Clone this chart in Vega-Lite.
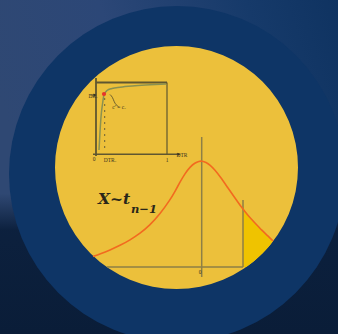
{
  "$schema": "https://vega.github.io/schema/vega-lite/v6.json",
  "width": 338,
  "height": 334,
  "padding": 0,
  "autosize": {"type": "none"},
  "config": {"view": {"stroke": null}},
  "encoding": {
    "x": {"field": "x", "type": "quantitative", "scale": {"domain": [0, 338], "nice": false, "zero": false}, "axis": null},
    "y": {"field": "y", "type": "quantitative", "scale": {"domain": [0, 334], "nice": false, "zero": false, "reverse": true}, "axis": null}
  },
  "layer": [
    {
      "data": {"values": [{"x": 0, "x2": 338, "y": 0, "y2": 334}]},
      "mark": {"type": "rect", "color": {"gradient": "linear", "x1": 0, "y1": 0.3, "x2": 1, "y2": 0, "stops": [
        {"offset": 0, "color": "#2f4873"},
        {"offset": 0.35, "color": "#2c4777"},
        {"offset": 0.75, "color": "#163a6a"},
        {"offset": 1, "color": "#0f3361"}]}},
      "encoding": {"x2": {"field": "x2"}, "y2": {"field": "y2"}}
    },
    {
      "data": {"values": [{"x": 0, "x2": 338, "y": 0, "y2": 334}]},
      "mark": {"type": "rect", "color": {"gradient": "linear", "x1": 0, "y1": 0, "x2": 0, "y2": 1, "stops": [
        {"offset": 0, "color": "rgba(11,31,60,0)"},
        {"offset": 0.58, "color": "rgba(11,31,60,0)"},
        {"offset": 0.69, "color": "rgba(11,31,60,0.97)"},
        {"offset": 1, "color": "rgba(10,29,56,1)"}]}},
      "encoding": {"x2": {"field": "x2"}, "y2": {"field": "y2"}}
    },
    {
      "data": {"values": [{"x": 177, "y": 174}]},
      "mark": {"type": "point", "shape": "circle", "filled": true, "opacity": 1, "size": 112896, "color": "#0e3566"}
    },
    {
      "data": {"values": [{"x": 176.5, "y": 167.5}]},
      "mark": {"type": "point", "shape": "circle", "filled": true, "opacity": 1, "size": 59049, "color": "#ecc03b"}
    },
    {
      "data": {"values": [
        {"x": 243, "y": 209, "y2": 267},
        {"x": 246, "y": 213, "y2": 267},
        {"x": 248, "y": 215.5, "y2": 265.7},
        {"x": 255, "y": 223, "y2": 260.2},
        {"x": 258, "y": 226, "y2": 257.6},
        {"x": 262, "y": 230.5, "y2": 253.8},
        {"x": 265, "y": 233, "y2": 250.7},
        {"x": 268, "y": 236, "y2": 247.4},
        {"x": 270, "y": 238, "y2": 245.1},
        {"x": 273, "y": 241, "y2": 241.3}
      ]},
      "mark": {"type": "area", "color": "#efc300", "opacity": 1},
      "encoding": {"y2": {"field": "y2"}}
    },
    {
      "data": {"values": [
        {"x": 201.7, "y": 137, "x2": 201.7, "y2": 277},
        {"x": 107, "y": 267, "x2": 243, "y2": 267},
        {"x": 243, "y": 200, "x2": 243, "y2": 267}
      ]},
      "mark": {"type": "rule", "color": "#8e7f46", "strokeWidth": 1.5},
      "encoding": {"x2": {"field": "x2"}, "y2": {"field": "y2"}}
    },
    {
      "data": {"values": [
        {"x": 93, "y": 256.5}, {"x": 100, "y": 254}, {"x": 110, "y": 250}, {"x": 120, "y": 245.5},
        {"x": 130, "y": 240}, {"x": 140, "y": 233.5}, {"x": 150, "y": 225}, {"x": 160, "y": 214},
        {"x": 170, "y": 200}, {"x": 175, "y": 191.5}, {"x": 180, "y": 182}, {"x": 185, "y": 173.5},
        {"x": 190, "y": 167}, {"x": 195, "y": 162.8}, {"x": 199, "y": 161.2}, {"x": 202, "y": 161},
        {"x": 206, "y": 162.3}, {"x": 210, "y": 165}, {"x": 215, "y": 170}, {"x": 220, "y": 176.5},
        {"x": 228, "y": 188}, {"x": 235, "y": 198}, {"x": 242, "y": 208}, {"x": 248, "y": 215.5},
        {"x": 255, "y": 223}, {"x": 262, "y": 230.5}, {"x": 268, "y": 236}, {"x": 273, "y": 241}
      ]},
      "mark": {"type": "line", "color": "#f26a1f", "strokeWidth": 1.6, "interpolate": "basis"},
      "encoding": {"order": {"field": "x", "type": "quantitative"}}
    },
    {
      "data": {"values": [
        {"x": 96, "y": 78, "x2": 96, "y2": 156, "w": 1.8},
        {"x": 96, "y": 82.5, "x2": 167, "y2": 82.5, "w": 2},
        {"x": 167, "y": 82.5, "x2": 167, "y2": 154, "w": 1.2},
        {"x": 93, "y": 154.3, "x2": 178, "y2": 154.3, "w": 1.6},
        {"x": 90, "y": 95, "x2": 96, "y2": 95, "w": 0.8}
      ]},
      "mark": {"type": "rule", "color": "#5f5630"},
      "encoding": {"x2": {"field": "x2"}, "y2": {"field": "y2"}, "strokeWidth": {"field": "w", "type": "quantitative", "scale": null}}
    },
    {
      "data": {"values": [{"x": 179, "y": 154.3}, {"x": 95, "y": 95}]},
      "mark": {"type": "point", "shape": "triangle-right", "filled": true, "opacity": 1, "size": 10, "color": "#3a3420"}
    },
    {
      "data": {"values": [{"x": 104.7, "y": 98, "x2": 104.7, "y2": 152}]},
      "mark": {"type": "rule", "color": "#6a6138", "strokeWidth": 1, "strokeDash": [2, 4]},
      "encoding": {"x2": {"field": "x2"}, "y2": {"field": "y2"}}
    },
    {
      "data": {"values": [
        {"x": 99, "y": 150}, {"x": 100, "y": 132}, {"x": 101, "y": 117}, {"x": 102.5, "y": 104},
        {"x": 104, "y": 95}, {"x": 107, "y": 90.5}, {"x": 112, "y": 88.5}, {"x": 120, "y": 87.2},
        {"x": 135, "y": 85.8}, {"x": 150, "y": 84.8}, {"x": 166, "y": 84}
      ]},
      "mark": {"type": "line", "color": "#8a9150", "strokeWidth": 1.5, "interpolate": "monotone"},
      "encoding": {"order": {"field": "x", "type": "quantitative"}}
    },
    {
      "data": {"values": [
        {"x": 110, "y": 94.5, "o": 1}, {"x": 112.5, "y": 97, "o": 2}, {"x": 114, "y": 101.5, "o": 3},
        {"x": 116, "y": 105, "o": 4}, {"x": 118.5, "y": 106.5, "o": 5}
      ]},
      "mark": {"type": "line", "color": "#4f4828", "strokeWidth": 0.8, "interpolate": "basis"},
      "encoding": {"order": {"field": "o", "type": "quantitative"}}
    },
    {
      "data": {"values": [{"x": 104, "y": 94}]},
      "mark": {"type": "point", "shape": "circle", "filled": true, "opacity": 1, "size": 18, "color": "#e8342a"}
    },
    {
      "data": {"values": [
        {"x": 93, "y": 95.5, "label": "DRᵥ", "a": "right"},
        {"x": 119, "y": 107, "label": "c′ = cᵥ", "a": "left"},
        {"x": 94, "y": 158.5, "label": "0", "a": "center"},
        {"x": 110, "y": 160, "label": "DTRᵥ", "a": "center"},
        {"x": 167, "y": 160, "label": "1", "a": "center"},
        {"x": 182, "y": 155, "label": "DTR", "a": "left"},
        {"x": 200, "y": 272, "label": "0", "a": "center"}
      ]},
      "mark": {"type": "text", "font": "Liberation Serif", "fontSize": 5.5, "color": "#3a3420", "baseline": "middle"},
      "encoding": {"text": {"field": "label"}, "align": {"field": "a", "type": "nominal", "scale": null}}
    },
    {
      "data": {"values": [{"x": 98, "y": 204, "label": "X~t"}]},
      "mark": {"type": "text", "font": "DejaVu Serif", "fontSize": 15.5, "fontStyle": "italic", "fontWeight": "bold", "color": "#2a2719", "align": "left", "baseline": "alphabetic"},
      "encoding": {"text": {"field": "label"}}
    },
    {
      "data": {"values": [{"x": 131, "y": 212.5, "label": "n−1"}]},
      "mark": {"type": "text", "font": "DejaVu Serif", "fontSize": 11.5, "fontStyle": "italic", "fontWeight": "bold", "color": "#2a2719", "align": "left", "baseline": "alphabetic"},
      "encoding": {"text": {"field": "label"}}
    }
  ]
}
